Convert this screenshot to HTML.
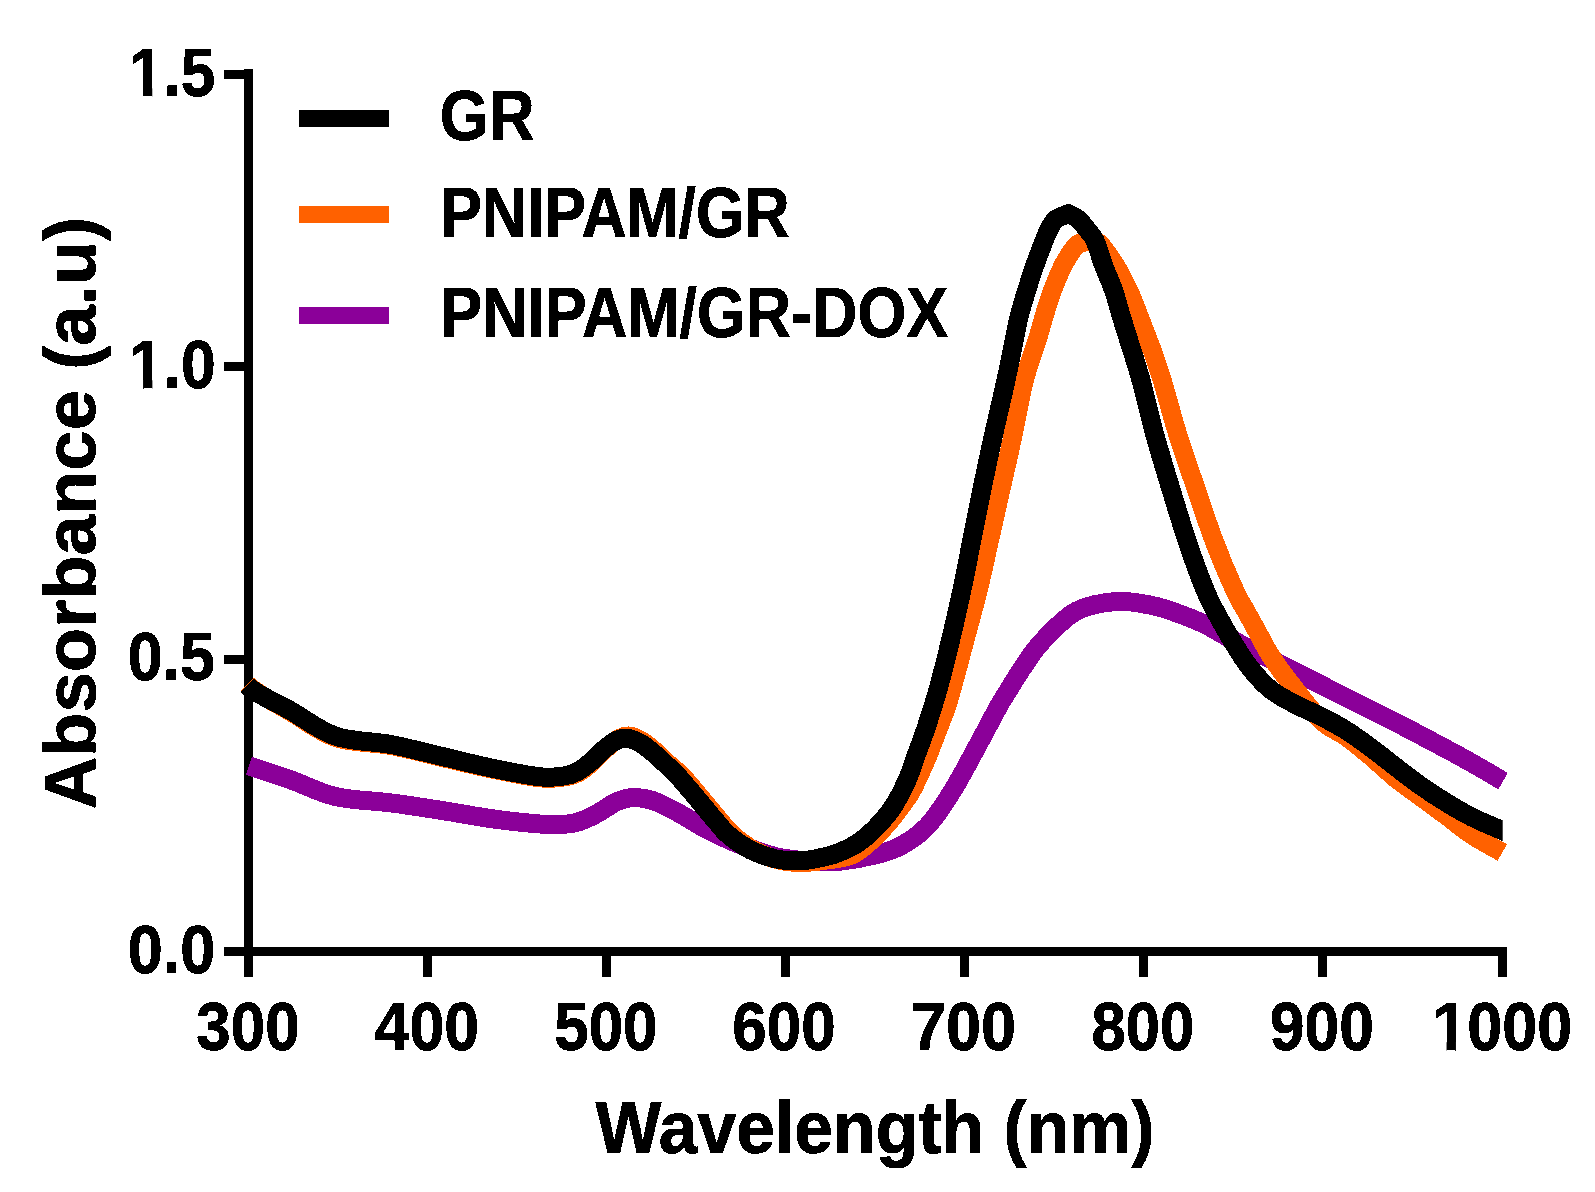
<!DOCTYPE html>
<html lang="en"><head><meta charset="utf-8"><title>Absorbance spectra</title>
<style>
html,body{margin:0;padding:0;background:#fff;}
body{width:1595px;height:1192px;overflow:hidden;}
svg{display:block;}
</style></head><body>
<svg width="1595" height="1192" viewBox="0 0 1595 1192">
<rect width="1595" height="1192" fill="#fff"/>
<g fill="#000" shape-rendering="crispEdges">
<rect x="244" y="69" width="9" height="887"/>
<rect x="224" y="947" width="1283" height="9"/>
<rect x="224" y="655" width="20" height="9"/>
<rect x="224" y="362" width="20" height="9"/>
<rect x="224" y="70" width="20" height="9"/>
<rect x="244" y="956" width="9" height="21"/>
<rect x="423" y="956" width="9" height="21"/>
<rect x="602" y="956" width="9" height="21"/>
<rect x="781" y="956" width="9" height="21"/>
<rect x="960" y="956" width="9" height="21"/>
<rect x="1139" y="956" width="9" height="21"/>
<rect x="1318" y="956" width="9" height="21"/>
<rect x="1498" y="956" width="9" height="21"/>
</g>
<g fill="none" stroke-width="19" stroke-linejoin="round" stroke-linecap="butt" shape-rendering="crispEdges">
<path stroke="#8b0099" d="M249.0 766.0 C255.9 768.3 275.9 774.6 290.3 779.7 C304.8 784.8 318.9 792.7 335.7 796.6 C352.5 800.5 373.4 800.6 391.0 802.9 C408.6 805.2 424.6 807.8 441.4 810.4 C458.2 813.0 475.3 816.4 491.7 818.7 C508.1 821.0 527.8 823.1 540.0 824.0 C552.2 824.9 558.9 824.5 565.2 824.2 C571.5 823.9 573.6 823.3 577.8 822.1 C582.0 820.9 586.1 819.1 590.3 817.1 C594.5 815.1 598.7 812.6 602.9 810.1 C607.1 807.6 611.3 804.2 615.5 802.2 C619.7 800.2 624.5 798.9 628.1 798.1 C631.7 797.3 632.7 797.1 636.9 797.5 C641.1 797.9 648.5 799.2 653.3 800.7 C658.1 802.2 661.7 804.4 665.9 806.4 C670.1 808.4 674.3 810.6 678.5 812.9 C682.7 815.2 686.8 817.7 691.0 820.2 C695.2 822.7 699.4 825.5 703.6 827.8 C707.8 830.1 710.4 831.3 716.2 834.0 C722.0 836.7 728.5 840.1 738.5 843.9 C748.5 847.7 764.1 853.9 776.0 856.7 C787.9 859.6 799.5 860.2 810.0 861.0 C820.5 861.8 827.8 862.4 839.0 861.3 C850.2 860.2 866.5 857.2 877.0 854.5 C887.5 851.8 893.6 849.9 902.0 845.2 C910.4 840.5 918.8 835.3 927.2 826.3 C935.6 817.3 944.0 804.4 952.4 791.0 C960.8 777.6 970.0 759.5 977.6 745.7 C985.2 731.9 992.7 717.0 997.7 708.0 C1002.7 699.0 1003.2 698.6 1007.5 691.7 C1011.8 684.8 1017.6 675.0 1023.4 666.6 C1029.2 658.2 1033.4 650.6 1042.2 641.4 C1051.0 632.2 1063.8 617.9 1076.2 611.2 C1088.6 604.6 1103.9 602.5 1116.5 601.5 C1129.1 600.5 1141.6 603.5 1151.7 605.4 C1161.8 607.3 1168.5 610.1 1176.9 613.0 C1185.3 615.9 1194.8 619.7 1202.0 623.0 C1209.2 626.3 1213.0 628.9 1220.2 632.9 C1227.4 636.9 1232.7 640.2 1245.3 646.7 C1257.9 653.2 1278.9 663.4 1295.7 671.9 C1312.5 680.4 1329.2 689.1 1346.0 697.6 C1362.8 706.1 1379.6 714.1 1396.4 722.7 C1413.2 731.3 1434.1 742.5 1446.7 749.2 C1459.3 755.9 1462.5 757.7 1471.9 763.0 C1481.3 768.3 1497.9 778.1 1503.1 781.1"/>
<path stroke="#ff6100" d="M247.1 684.3 C257.1 694.5 275.5 702.6 290.3 711.5 C305.1 720.4 318.9 731.8 335.7 737.5 C352.5 743.2 373.4 742.2 391.0 745.5 C408.6 748.8 424.6 753.4 441.4 757.3 C458.2 761.2 475.3 765.6 491.7 769.0 C508.1 772.4 527.8 776.5 540.0 777.8 C552.2 779.1 558.7 777.7 565.2 776.8 C571.7 775.9 574.3 774.9 578.8 772.4 C583.3 769.9 587.9 765.8 592.3 762.0 C596.6 758.2 600.7 753.2 604.9 749.5 C609.1 745.8 613.5 741.8 617.5 739.5 C621.5 737.2 624.6 735.7 628.8 736.0 C633.0 736.3 638.3 738.9 642.7 741.5 C647.1 744.1 651.1 747.9 655.3 751.5 C659.5 755.1 663.4 759.4 667.9 763.4 C672.4 767.4 677.6 771.3 682.0 775.8 C686.4 780.3 690.3 785.4 694.5 790.3 C698.7 795.2 702.9 800.4 707.1 805.4 C711.3 810.4 715.5 815.6 719.7 820.5 C723.9 825.4 726.7 829.6 732.3 834.5 C737.9 839.4 746.0 845.8 753.5 850.0 C761.0 854.2 769.5 857.6 777.5 859.7 C785.5 861.8 793.2 862.5 801.4 862.5 C809.6 862.5 818.2 861.2 826.6 860.0 C835.0 858.8 844.3 858.2 851.7 855.0 C859.1 851.8 865.0 846.1 871.0 840.8 C877.0 835.5 882.9 829.0 888.0 823.1 C893.1 817.2 897.7 811.0 901.7 805.5 C905.7 800.0 908.2 797.4 912.2 789.9 C916.2 782.4 921.6 770.3 925.9 760.4 C930.1 750.5 933.9 740.3 937.7 730.2 C941.5 720.1 944.2 715.0 948.7 700.0 C953.2 685.0 960.1 658.2 965.0 640.0 C969.9 621.8 973.9 607.5 978.0 591.0 C982.1 574.5 985.6 557.5 989.4 540.7 C993.2 523.9 996.9 507.1 1000.7 490.3 C1004.5 473.5 1008.1 458.1 1012.0 440.0 C1015.9 421.9 1019.9 398.1 1024.1 381.4 C1028.3 364.7 1033.9 350.7 1037.3 339.8 C1040.7 328.9 1041.7 324.1 1044.2 315.9 C1046.7 307.7 1049.2 299.1 1052.4 290.7 C1055.6 282.3 1059.4 272.8 1063.1 265.5 C1066.8 258.2 1071.8 250.8 1074.8 247.0 C1077.8 243.2 1078.6 243.5 1081.3 242.7 C1084.0 241.9 1088.0 241.9 1090.8 242.0 C1093.6 242.1 1096.2 242.6 1098.0 243.2 C1099.8 243.8 1098.4 241.2 1101.7 245.6 C1105.0 250.0 1113.3 261.7 1118.1 269.7 C1122.8 277.7 1126.5 285.7 1130.2 293.8 C1133.9 301.9 1136.8 310.2 1140.0 318.5 C1143.2 326.8 1147.2 337.2 1149.5 343.3 C1151.8 349.4 1151.9 349.0 1154.0 355.2 C1156.1 361.4 1159.6 371.9 1162.2 380.3 C1164.8 388.7 1167.0 397.1 1169.4 405.5 C1171.8 413.9 1174.0 422.3 1176.6 430.7 C1179.2 439.1 1182.1 447.7 1184.8 455.9 C1187.5 464.1 1188.1 465.7 1193.0 479.8 C1197.9 493.9 1207.0 522.2 1214.0 540.7 C1221.0 559.2 1229.6 579.1 1235.0 591.0 C1240.4 602.9 1242.8 605.2 1246.5 612.0 C1250.2 618.8 1253.5 624.8 1257.5 632.0 C1261.5 639.2 1265.3 647.4 1270.5 655.5 C1275.7 663.6 1280.1 669.9 1288.5 680.7 C1296.9 691.5 1311.3 710.9 1320.9 720.2 C1330.5 729.5 1337.6 730.5 1346.0 736.6 C1354.4 742.7 1362.8 749.7 1371.2 756.7 C1379.6 763.8 1388.0 772.1 1396.4 778.9 C1404.8 785.7 1413.2 791.3 1421.6 797.5 C1430.0 803.7 1438.3 809.8 1446.7 816.0 C1455.1 822.2 1462.6 828.9 1471.9 835.0 C1481.2 841.1 1497.2 849.6 1502.3 852.5"/>
<clipPath id="cb"><rect x="0" y="0" width="1502.7" height="1192"/></clipPath>
<path stroke="#000" clip-path="url(#cb)" d="M247.1 685.3 C257.1 695.2 275.5 702.0 290.3 710.5 C305.1 719.0 318.9 730.5 335.7 736.2 C352.5 741.9 373.4 741.1 391.0 744.5 C408.6 747.9 424.6 752.4 441.4 756.3 C458.2 760.2 475.3 764.7 491.7 768.1 C508.1 771.5 527.8 775.5 540.0 776.8 C552.2 778.1 558.9 776.7 565.2 775.8 C571.5 774.9 573.6 773.6 577.8 771.4 C582.0 769.1 586.1 765.8 590.3 762.3 C594.5 758.8 598.7 753.9 602.9 750.3 C607.1 746.7 611.5 742.9 615.5 740.9 C619.5 738.9 622.6 737.9 626.8 738.3 C631.0 738.7 636.3 741.0 640.7 743.4 C645.1 745.8 649.1 749.4 653.3 752.9 C657.5 756.4 661.7 760.4 665.9 764.4 C670.1 768.4 674.3 772.3 678.5 776.8 C682.7 781.3 686.8 786.4 691.0 791.3 C695.2 796.2 699.4 801.4 703.6 806.4 C707.8 811.4 712.0 816.7 716.2 821.5 C720.4 826.3 723.0 830.5 728.8 835.3 C734.6 840.1 743.1 846.2 751.0 850.2 C758.9 854.2 769.4 857.3 776.2 859.0 C783.0 860.7 787.2 860.2 792.0 860.5 C796.8 860.8 798.8 861.3 805.2 860.5 C811.6 859.7 824.0 857.1 830.3 855.5 C836.6 853.9 838.7 852.6 842.9 850.8 C847.1 849.0 851.3 847.1 855.5 844.5 C859.7 841.9 863.9 838.8 868.1 835.1 C872.3 831.4 876.4 827.4 880.7 822.5 C885.0 817.6 889.5 812.5 893.9 805.5 C898.3 798.5 903.4 788.7 907.1 780.3 C910.8 771.9 913.2 763.6 916.2 755.2 C919.2 746.8 921.8 740.8 925.4 730.0 C929.0 719.2 933.6 705.1 937.8 690.3 C941.9 675.5 946.3 657.9 950.3 641.4 C954.3 624.9 958.1 607.8 961.7 591.0 C965.3 574.2 968.4 557.5 971.7 540.7 C975.1 523.9 978.3 507.1 981.8 490.3 C985.2 473.5 988.4 458.1 992.4 440.0 C996.4 421.9 1002.1 398.1 1005.7 381.4 C1009.4 364.7 1012.0 350.7 1014.3 339.8 C1016.6 328.9 1017.2 324.1 1019.3 315.9 C1021.3 307.7 1024.0 299.1 1026.6 290.7 C1029.2 282.3 1031.8 273.9 1034.8 265.5 C1037.8 257.1 1041.8 246.6 1044.3 240.3 C1046.8 234.0 1047.8 231.4 1049.8 227.8 C1051.8 224.2 1053.3 221.2 1056.5 218.8 C1059.7 216.5 1066.7 214.5 1068.7 213.7 C1070.2 214.6 1075.2 216.7 1078.0 219.0 C1080.8 221.3 1082.9 224.2 1085.7 227.8 C1088.5 231.4 1091.8 234.0 1094.8 240.3 C1097.8 246.6 1100.4 257.1 1103.6 265.5 C1106.8 273.9 1110.8 282.3 1113.7 290.7 C1116.6 299.1 1118.7 307.7 1121.2 315.9 C1123.7 324.1 1126.5 333.2 1128.6 339.8 C1130.6 346.4 1131.4 348.4 1133.5 355.2 C1135.6 361.9 1138.7 371.9 1141.0 380.3 C1143.3 388.7 1145.3 397.1 1147.4 405.5 C1149.5 413.9 1151.5 422.3 1153.7 430.7 C1156.0 439.1 1158.5 447.7 1160.9 455.9 C1163.3 464.1 1163.8 465.7 1168.1 479.8 C1172.4 493.9 1180.8 522.2 1187.0 540.7 C1193.2 559.2 1200.3 578.4 1205.5 591.0 C1210.7 603.6 1213.5 607.8 1218.0 616.2 C1222.5 624.6 1227.3 633.0 1232.5 641.4 C1237.7 649.8 1242.7 658.6 1249.0 666.6 C1255.3 674.6 1262.7 683.2 1270.5 689.5 C1278.3 695.8 1287.3 700.1 1295.7 704.6 C1304.1 709.1 1312.5 712.1 1320.9 716.4 C1329.3 720.7 1337.6 725.0 1346.0 730.3 C1354.4 735.5 1362.8 741.7 1371.2 747.9 C1379.6 754.1 1388.0 761.1 1396.4 767.5 C1404.8 773.9 1413.2 780.5 1421.6 786.4 C1430.0 792.3 1438.3 797.7 1446.7 802.8 C1455.1 807.9 1462.6 812.5 1471.9 817.1 C1481.2 821.8 1495.9 827.8 1502.6 830.7 C1509.3 833.6 1510.3 834.1 1511.8 834.8"/>
</g>
<g shape-rendering="crispEdges">
<rect x="299" y="110" width="90" height="17" fill="#000"/>
<rect x="299" y="206" width="90" height="17" fill="#ff6100"/>
<rect x="299" y="307" width="90" height="17" fill="#8b0099"/>
</g>
<filter id="bin" filterUnits="userSpaceOnUse" x="0" y="0" width="1595" height="1192" color-interpolation-filters="sRGB"><feComponentTransfer><feFuncA type="discrete" tableValues="0 1"/></feComponentTransfer></filter>
<g filter="url(#bin)" font-family="'Liberation Sans', Arial, sans-serif" font-weight="700" font-size="100" fill="#000" stroke="#000" stroke-width="1.2" stroke-linejoin="round">
<text transform="matrix(0.6317 0 0 0.6990 439.79 139.90)">GR</text>
<text transform="matrix(0.6252 0 0 0.6980 440.15 236.90)">PNIPAM/GR</text>
<text transform="matrix(0.6278 0 0 0.6990 440.13 337.00)">PNIPAM/GR-DOX</text>
<text transform="matrix(0.6214 0 0 0.6883 128.87 95.98)">1.5</text>
<path transform="matrix(0.6214 0 0 0.6883 128.87 95.98)" fill="#fff" stroke="none" d="M4 -12H22.74V2H4ZM37.66 -12H54.6V2H37.66Z"/>
<text transform="matrix(0.6247 0 0 0.6861 128.85 388.29)">1.0</text>
<path transform="matrix(0.6247 0 0 0.6861 128.85 388.29)" fill="#fff" stroke="none" d="M4 -12H22.74V2H4ZM37.66 -12H54.6V2H37.66Z"/>
<text transform="matrix(0.6270 0 0 0.6819 127.71 680.29)">0.5</text>
<text transform="matrix(0.6303 0 0 0.6847 127.70 973.09)">0.0</text>
<text transform="matrix(0.6186 0 0 0.6839 196.36 1049.93)">300</text>
<text transform="matrix(0.6270 0 0 0.6903 374.58 1050.38)">400</text>
<text transform="matrix(0.6193 0 0 0.6903 554.25 1050.38)">500</text>
<text transform="matrix(0.6194 0 0 0.6903 732.34 1050.38)">600</text>
<text transform="matrix(0.6295 0 0 0.6903 910.88 1050.38)">700</text>
<text transform="matrix(0.6162 0 0 0.6903 1091.56 1050.38)">800</text>
<text transform="matrix(0.6243 0 0 0.6903 1269.84 1050.38)">900</text>
<text transform="matrix(0.6301 0 0 0.6903 1432.22 1050.38)">1000</text>
<path transform="matrix(0.6301 0 0 0.6903 1432.22 1050.38)" fill="#fff" stroke="none" d="M4 -12H22.74V2H4ZM37.66 -12H54.6V2H37.66Z"/>
<text transform="matrix(0.6972 0 0 0.7350 595.46 1153.00)">Wavelength (nm)</text>
<text transform="matrix(0 -0.7257 0.7150 0 95.10 809.15)">Absorbance (a.u)</text>
</g>
</svg>
</body></html>
